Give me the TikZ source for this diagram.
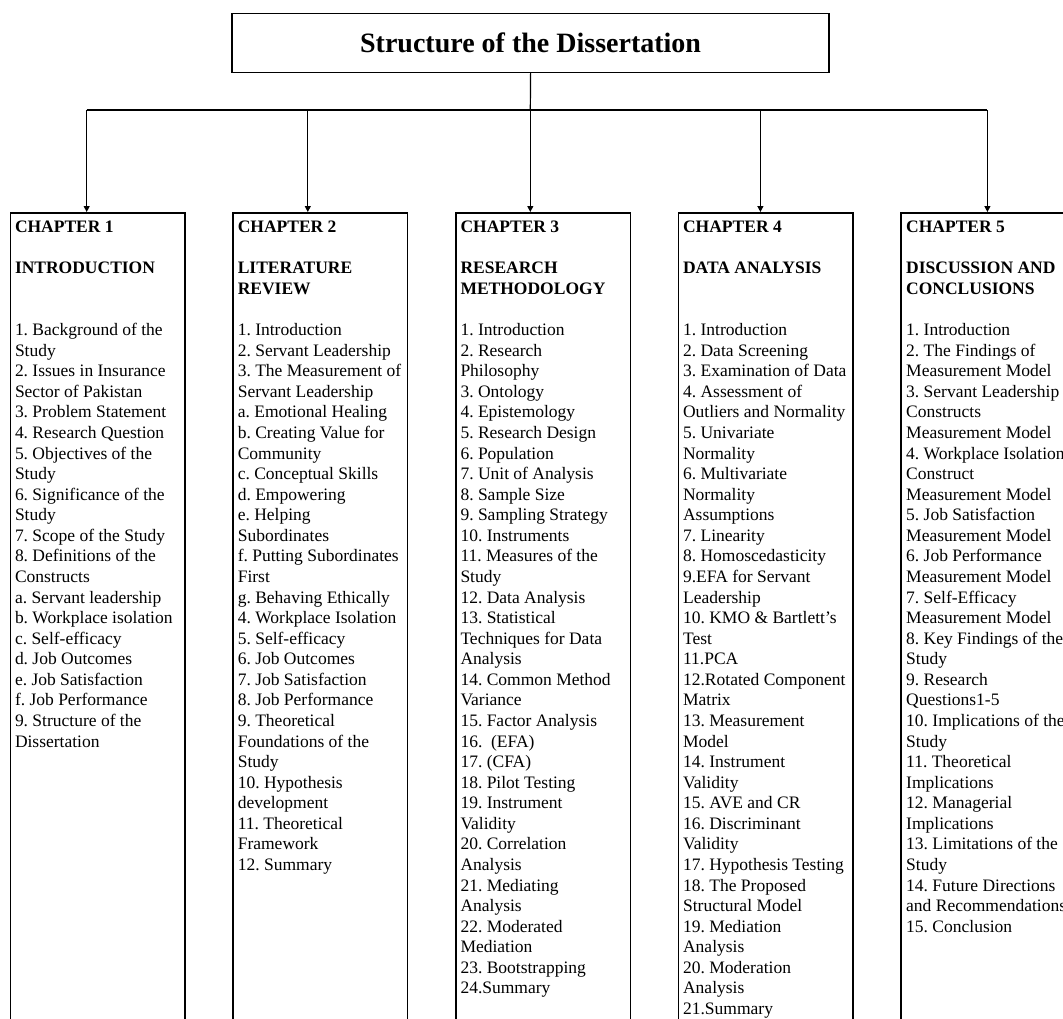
\documentclass[tikz,border=0pt]{standalone}
\usepackage{fontspec}
\setmainfont{Liberation Serif}
\usetikzlibrary{arrows.meta,positioning}
\frenchspacing

\tikzset{
  titlebox/.style={draw, line width=1.6pt, minimum width=596.7pt, minimum height=59pt,
    font=\fontsize{28}{32}\selectfont\bfseries},
  chapbox/.style={draw, line width=1.6pt, minimum width=174.5pt, minimum height=840pt,
    anchor=north west, inner sep=0pt},
  chaptext/.style={align=left, inner sep=0pt, font=\fontsize{17.5}{20.57}\selectfont},
  link/.style={line width=1.2pt},
}

\begin{document}
\begin{tikzpicture}[x=1pt, y=-1pt]
  \useasboundingbox (0,0) rectangle (1063,1018);
  \clip (0,0) rectangle (1063,1018);

  % Title
  \node[titlebox] (title) at (530.6, 42.8) {Structure of the Dissertation};

  % Chapter boxes
  \foreach \i/\bx/\ax in {1/9.5/86.7, 2/232.3/307.8, 3/455/530.3, 4/677.6/760.4, 5/900.2/987.4} {
    \node[chapbox] (ch\i) at (\bx, 212) {};
    \coordinate (j\i) at (\ax, 110);
  }

  % Connectors
  \draw[link] (title.south) -- (j3);
  \draw[link] (j1) -- (j5);
  \foreach \i in {1,...,5}
    \draw[link, -{Triangle[length=6pt, width=6pt]}] (j\i) -- (j\i |- ch\i.north);

  % Chapter 1
  \node[chaptext, below right=9pt and 5.3pt of ch1.north west] (txt1) {%
    \textbf{CHAPTER 1}\\ \\ \textbf{INTRODUCTION}\\ \\ \\
    1. Background of the\\ Study\\
    2. Issues in Insurance\\ Sector of Pakistan\\
    3. Problem Statement\\
    4. Research Question\\
    5. Objectives of the\\ Study\\
    6. Significance of the\\ Study\\
    7. Scope of the Study\\
    8. Definitions of the\\ Constructs\\
    a. Servant leadership\\
    b. Workplace isolation\\
    c. Self-efficacy\\
    d. Job Outcomes\\
    e. Job Satisfaction\\
    f. Job Performance\\
    9. Structure of the\\ Dissertation};

  % Chapter 2
  \node[chaptext, below right=9pt and 5.3pt of ch2.north west] (txt2) {%
    \textbf{CHAPTER 2}\\ \\ \textbf{LITERATURE}\\ \textbf{REVIEW}\\ \\
    1. Introduction\\
    2. Servant Leadership\\
    3. The Measurement of\\ Servant Leadership\\
    a. Emotional Healing\\
    b. Creating Value for\\ Community\\
    c. Conceptual Skills\\
    d. Empowering\\
    e. Helping\\ Subordinates\\
    f. Putting Subordinates\\ First\\
    g. Behaving Ethically\\
    4. Workplace Isolation\\
    5. Self-efficacy\\
    6. Job Outcomes\\
    7. Job Satisfaction\\
    8. Job Performance\\
    9. Theoretical\\ Foundations of the\\ Study\\
    10. Hypothesis\\ development\\
    11. Theoretical\\ Framework\\
    12. Summary};

  % Chapter 3
  \node[chaptext, below right=9pt and 5.3pt of ch3.north west] (txt3) {%
    \textbf{CHAPTER 3}\\ \\ \textbf{RESEARCH}\\ \textbf{METHODOLOGY}\\ \\
    1. Introduction\\
    2. Research\\ Philosophy\\
    3. Ontology\\
    4. Epistemology\\
    5. Research Design\\
    6. Population\\
    7. Unit of Analysis\\
    8. Sample Size\\
    9. Sampling Strategy\\
    10. Instruments\\
    11. Measures of the\\ Study\\
    12. Data Analysis\\
    13. Statistical\\ Techniques for Data\\ Analysis\\
    14. Common Method\\ Variance\\
    15. Factor Analysis\\
    16.\ \ (EFA)\\
    17. (CFA)\\
    18. Pilot Testing\\
    19. Instrument\\ Validity\\
    20. Correlation\\ Analysis\\
    21. Mediating\\ Analysis\\
    22. Moderated\\ Mediation\\
    23. Bootstrapping\\
    24.Summary};

  % Chapter 4
  \node[chaptext, below right=9pt and 5.3pt of ch4.north west] (txt4) {%
    \textbf{CHAPTER 4}\\ \\ \textbf{DATA ANALYSIS}\\ \\ \\
    1. Introduction\\
    2. Data Screening\\
    3. Examination of Data\\
    4. Assessment of\\ Outliers and Normality\\
    5. Univariate\\ Normality\\
    6. Multivariate\\ Normality\\ Assumptions\\
    7. Linearity\\
    8. Homoscedasticity\\
    9.EFA for Servant\\ Leadership\\
    10. KMO \& Bartlett’s\\ Test\\
    11.PCA\\
    12.Rotated Component\\ Matrix\\
    13. Measurement\\ Model\\
    14. Instrument\\ Validity\\
    15. AVE and CR\\
    16. Discriminant\\ Validity\\
    17. Hypothesis Testing\\
    18. The Proposed\\ Structural Model\\
    19. Mediation\\ Analysis\\
    20. Moderation\\ Analysis\\
    21.Summary};

  % Chapter 5
  \node[chaptext, below right=9pt and 5.8pt of ch5.north west] (txt5) {%
    \textbf{CHAPTER 5}\\ \\ \textbf{DISCUSSION AND}\\ \textbf{CONCLUSIONS}\\ \\
    1. Introduction\\
    2. The Findings of\\ Measurement Model\\
    3. Servant Leadership\\ Constructs\\ Measurement Model\\
    4. Workplace Isolation\\ Construct\\ Measurement Model\\
    5. Job Satisfaction\\ Measurement Model\\
    6. Job Performance\\ Measurement Model\\
    7. Self-Efficacy\\ Measurement Model\\
    8. Key Findings of the\\ Study\\
    9. Research\\ Questions1-5\\
    10. Implications of the\\ Study\\
    11. Theoretical\\ Implications\\
    12. Managerial\\ Implications\\
    13. Limitations of the\\ Study\\
    14. Future Directions\\ and Recommendations\\
    15. Conclusion};
\end{tikzpicture}
\end{document}
